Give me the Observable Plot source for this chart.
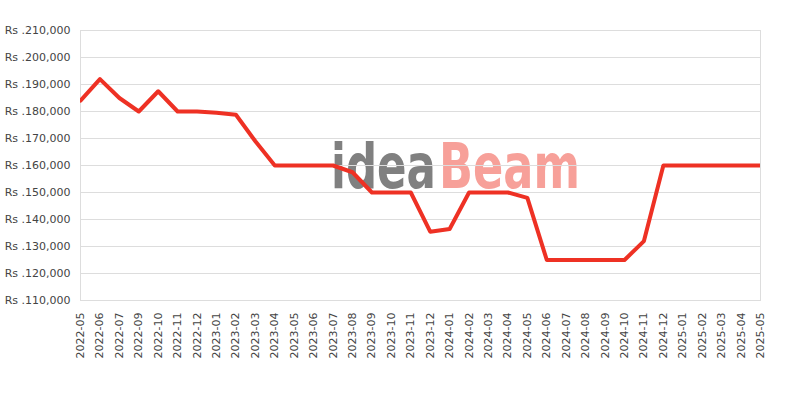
<!DOCTYPE html>
<html>
<head>
<meta charset="utf-8">
<script src="https://cdn.jsdelivr.net/npm/d3@7"></script>
<script src="https://cdn.jsdelivr.net/npm/@observablehq/plot@0.6"></script>
<style>
  body { margin: 0; background: #fff; }
  #wrap { position: relative; width: 800px; height: 400px; }
  #wm { position: absolute; left: 0; top: 0; pointer-events: none; }
</style>
</head>
<body>
<div id="wrap"></div>
<script>
const months = ["2022-05","2022-06","2022-07","2022-09","2022-10","2022-11","2022-12",
  "2023-01","2023-02","2023-03","2023-04","2023-05","2023-06","2023-07","2023-08","2023-09","2023-10","2023-11","2023-12",
  "2024-01","2024-02","2024-03","2024-04","2024-05","2024-06","2024-07","2024-08","2024-09","2024-10","2024-11","2024-12",
  "2025-01","2025-02","2025-03","2025-04","2025-05"];
const prices = [184000,192000,185000,180000,187500,180000,180000,
  179500,178800,169000,160000,160000,160000,160000,157500,150000,150000,150000,135500,
  136500,150000,150000,150000,148000,125000,125000,125000,125000,125000,132000,160000,
  160000,160000,160000,160000,160000];
const yTicks = d3.range(110000, 210001, 10000);

const data = months.map((m, i) => ({month: m, price: prices[i]}));
const fmt = d3.format(",");

const chart = Plot.plot({
  width: 800,
  height: 400,
  marginLeft: 80,
  marginRight: 40,
  marginTop: 30,
  marginBottom: 100,
  style: {fontFamily: "DejaVu Sans, sans-serif", fontSize: "11px", color: "#444", background: "transparent"},
  x: {type: "point", domain: months, padding: 0, round: false, label: null},
  y: {domain: [110000, 210000], label: null},
  marks: [
    Plot.gridY(yTicks, {stroke: "#ddd", strokeOpacity: 1}),
    Plot.frame({stroke: "#ddd"}),
    Plot.axisY(yTicks, {tickSize: 0, tickPadding: 10, tickFormat: d => "Rs ." + fmt(d), fill: "#444"}),
    Plot.axisX({tickSize: 0, tickPadding: 12, tickRotate: -90, fill: "#444"}),
    Plot.line(data, {x: "month", y: "price", stroke: "#ee3124", strokeWidth: 4, clip: true})
  ]
});
const wrap = document.getElementById("wrap");
// watermark (decorative, behind the chart)
const wm = d3.create("svg").attr("id", "wm").attr("width", 800).attr("height", 400)
  .attr("font-family", "DejaVu Sans, sans-serif").attr("font-weight", "bold").attr("font-size", 62);
wrap.appendChild(wm.node());
function word(str, x0, w, color) {
  const t = wm.append("text").attr("fill", color).text(str);
  const nat = t.node().getComputedTextLength();
  t.attr("transform", `translate(${x0},188) scale(${w / nat},1)`);
}
word("idea", 331, 105, "#808080");
word("Beam", 439, 141, "#f7a099");
chart.style.position = "relative";
wrap.appendChild(chart);
</script>
</body>
</html>
